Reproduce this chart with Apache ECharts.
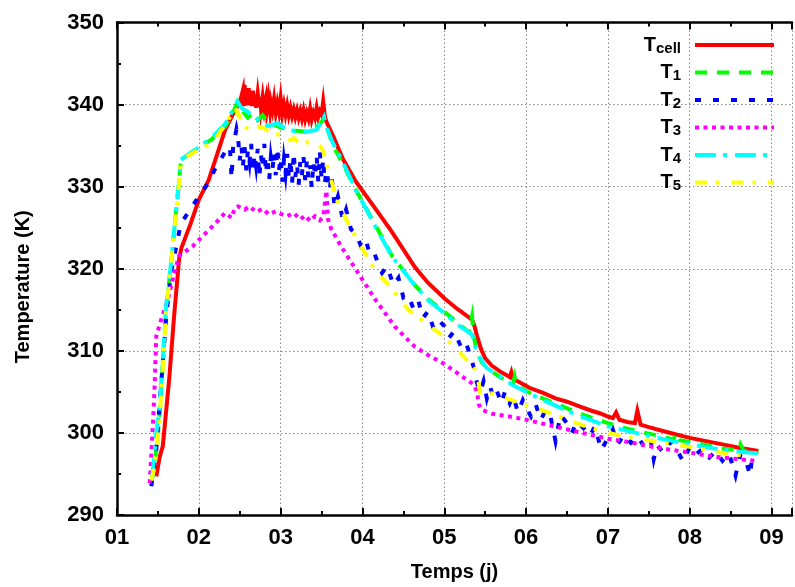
<!DOCTYPE html>
<html>
<head>
<meta charset="utf-8">
<script src="https://cdn.jsdelivr.net/npm/echarts@6/dist/echarts.min.js"></script>
<style>html,body{margin:0;padding:0;background:#fff}#c{width:795px;height:587px}</style>
</head>
<body>
<div id="c"></div>
<script>
// ---- data (day, temperature K) ----
var xTicks = ['01','02','03','04','05','06','07','08','09'];
var seriesNames = ['Tcell','T1','T2','T3','T4','T5'];
var seriesSubs = ['cell','1','2','3','4','5'];

var tCell = [[1.48,294.7],[1.52,297.0],[1.56,298.4],[1.64,306.8],[1.70,314.5],[1.76,321.3],[1.79,322.6],[1.90,325.5],[2.00,328.4],[2.12,330.8],[2.22,333.8],[2.32,336.9],[2.44,339.3],[2.50,340.2],
[2.52,340.2],[2.54,341.8],[2.55,339.8],[2.56,342.4],[2.57,340.0],[2.58,341.9],[2.60,339.9],[2.61,342.0],[2.62,340.1],[2.64,341.5],[2.65,339.8],[2.66,341.7],[2.68,339.9],[2.69,341.2],[2.70,339.6],[2.72,341.4],[2.74,339.7],[2.75,340.9],[2.76,339.5],[2.78,341.0],[2.80,339.4],[2.82,340.6],[2.83,339.3],[2.85,340.9],[2.87,339.2],[2.88,340.3],[2.90,339.3],[2.92,340.7],[2.94,339.0],[2.96,340.2],[2.98,339.1],[3.00,340.8],[3.02,338.9],[3.04,340.0],[3.06,338.8],[3.08,339.9],[3.10,338.7],[3.12,339.6],[3.14,338.6],[3.16,339.4],[3.18,338.5],[3.20,339.3],[3.22,338.4],[3.24,339.2],[3.26,338.3],[3.28,339.3],[3.30,338.2],[3.32,339.0],[3.34,338.3],[3.36,339.5],[3.38,338.2],[3.40,339.0],[3.42,338.4],[3.44,339.6],[3.46,338.5],[3.48,339.2],[3.50,338.8],[3.52,340.4],[3.54,338.6],[3.56,337.9],
[3.64,336.2],[3.76,333.4],[3.92,330.6],[4.16,327.3],[4.36,324.5],[4.64,320.2],[4.80,318.3],[5.00,316.4],[5.16,315.1],[5.34,313.8],[5.37,313.0],[5.40,311.8],[5.45,310.2],[5.50,309.1],[5.58,308.2],[5.68,307.5],[5.80,306.8],[5.82,307.4],[5.84,306.6],[6.04,305.5],[6.20,304.9],[6.36,304.2],[6.50,303.8],[6.66,303.2],[6.80,302.7],[6.90,302.4],[7.00,302.0],[7.06,301.8],[7.10,302.5],[7.14,301.6],[7.25,301.3],[7.33,301.2],[7.36,302.7],[7.40,301.0],[7.50,300.7],[7.65,300.3],[7.80,299.9],[8.00,299.4],[8.20,299.0],[8.40,298.6],[8.60,298.2],[8.84,297.8]];

var t1 = [[1.42,294.0],[1.46,296.0],[1.52,302.0],[1.56,308.5],[1.60,315.0],[1.66,320.5],[1.72,326.8],[1.76,330.8],[1.78,333.3],[1.96,334.5],[2.16,335.8],[2.32,337.3],[2.40,338.6],[2.46,340.0],[2.48,340.3],[2.52,339.5],[2.56,338.9],[2.60,338.4],[2.66,338.9],[2.72,338.1],[2.78,338.7],[2.84,337.9],[2.90,337.6],[3.00,337.2],[3.10,337.0],[3.20,336.8],[3.30,336.7],[3.40,337.0],[3.48,337.6],[3.52,338.2],[3.56,337.4],[3.64,335.0],[3.76,332.8],[3.92,329.6],[4.16,325.3],[4.36,321.6],[4.64,318.0],[4.80,316.3],[5.00,314.8],[5.16,313.4],[5.30,312.3],[5.34,314.2],[5.36,311.8],[5.40,309.8],[5.46,308.6],[5.52,307.9],[5.68,306.8],[5.84,305.9],[5.86,306.8],[5.88,305.8],[6.08,304.7],[6.30,303.8],[6.50,303.0],[6.70,302.2],[6.90,301.5],[7.00,301.2],[7.20,300.6],[7.40,300.1],[7.60,299.7],[7.80,299.2],[7.84,300.0],[7.88,299.1],[8.00,298.9],[8.20,298.5],[8.40,298.1],[8.60,297.9],[8.62,298.6],[8.66,297.8],[8.84,297.6]];

var t2 = [[1.42,293.5],[1.48,298.0],[1.54,306.0],[1.60,314.0],[1.66,319.5],[1.72,322.5],[1.78,325.5],[1.88,327.0],[2.00,328.8],[2.12,330.5],[2.20,332.2],[2.32,334.2],[2.38,334.9],[2.40,331.0],[2.42,335.0],[2.46,337.0],
[2.48,336.0],[2.50,333.2],[2.52,335.0],[2.54,332.6],[2.56,334.8],[2.58,332.0],[2.60,334.4],[2.62,333.0],[2.64,335.2],[2.66,331.8],[2.68,334.0],[2.70,332.5],[2.72,334.6],[2.74,331.2],[2.76,333.8],[2.78,332.2],[2.80,335.2],[2.82,331.6],[2.84,333.6],[2.86,330.8],[2.88,333.5],[2.90,332.0],[2.92,334.2],[2.94,331.4],[2.96,334.8],[2.98,332.0],[3.00,333.6],[3.02,330.6],[3.04,333.2],[3.06,331.6],[3.08,334.0],[3.10,331.0],[3.12,333.4],[3.14,330.4],[3.16,334.2],[3.18,331.2],[3.20,332.8],[3.22,330.2],[3.24,333.0],[3.26,331.4],[3.28,333.6],[3.30,330.8],[3.32,333.2],[3.34,331.0],[3.36,332.6],[3.38,329.8],[3.40,333.0],[3.42,331.2],[3.44,333.8],[3.46,330.6],[3.48,334.2],[3.50,331.0],[3.52,333.4],[3.54,330.4],[3.56,332.0],
[3.60,329.5],[3.62,331.5],[3.66,327.5],[3.70,328.8],[3.76,326.0],[3.80,327.2],[3.86,324.8],[3.92,324.3],[3.98,322.8],[4.04,323.6],[4.10,321.3],[4.16,321.5],[4.24,319.5],[4.30,320.3],[4.38,318.0],[4.44,318.9],[4.50,316.5],[4.56,316.8],[4.62,315.2],[4.68,316.2],[4.74,314.0],[4.80,314.8],[4.86,313.0],[4.92,313.9],[5.00,313.0],[5.06,311.6],[5.12,312.4],[5.20,310.6],[5.26,311.2],[5.32,309.3],[5.36,308.0],[5.40,306.1],[5.44,305.0],[5.48,306.3],[5.52,304.2],[5.56,305.6],[5.60,304.4],[5.64,305.2],[5.70,303.6],[5.74,305.0],[5.80,303.6],[5.84,304.6],[5.90,302.5],[5.96,304.0],[6.00,303.1],[6.06,302.0],[6.12,303.4],[6.18,301.6],[6.24,302.8],[6.30,301.9],[6.36,299.0],[6.42,302.2],[6.50,301.2],[6.56,300.0],[6.62,301.4],[6.70,300.6],[6.78,299.6],[6.84,300.8],[6.92,297.9],[7.00,299.4],[7.06,300.4],[7.12,298.6],[7.20,299.8],[7.28,298.8],[7.36,299.6],[7.44,298.4],[7.52,299.4],[7.56,296.8],[7.60,298.5],[7.68,297.6],[7.76,298.9],[7.84,298.0],[7.92,296.5],[8.00,298.3],[8.08,297.4],[8.16,298.1],[8.24,297.0],[8.32,297.8],[8.40,296.6],[8.48,297.5],[8.56,294.8],[8.62,297.4],[8.68,296.8],[8.74,294.8],[8.76,297.0]];

var t3 = [[1.40,293.9],[1.44,301.2],[1.46,305.7],[1.48,311.8],[1.54,313.8],[1.62,316.2],[1.70,319.5],[1.76,321.6],[1.92,322.7],[2.08,324.3],[2.20,325.5],[2.32,326.8],[2.40,326.2],[2.44,327.4],[2.48,327.6],[2.56,327.2],[2.62,327.6],[2.70,326.9],[2.78,327.3],[2.86,326.6],[2.94,327.0],[3.00,326.7],[3.08,326.4],[3.16,326.8],[3.24,326.0],[3.30,326.5],[3.36,325.8],[3.42,326.4],[3.48,325.9],[3.52,326.3],[3.56,329.5],[3.58,326.0],[3.62,324.8],[3.76,322.4],[3.92,319.9],[4.16,316.2],[4.40,312.9],[4.64,310.5],[4.80,309.5],[5.00,308.4],[5.20,307.0],[5.36,305.9],[5.40,305.0],[5.42,303.5],[5.46,302.8],[5.60,302.3],[5.80,302.0],[6.00,301.6],[6.30,300.9],[6.60,300.2],[7.00,299.3],[7.30,298.8],[7.60,298.2],[8.00,297.6],[8.30,297.1],[8.60,296.8],[8.80,296.6]];

var t4 = [[1.43,294.5],[1.48,300.0],[1.52,303.0],[1.56,309.0],[1.60,315.4],[1.66,320.7],[1.72,326.8],[1.76,330.8],[1.78,333.3],[1.96,334.5],[2.16,336.0],[2.32,337.6],[2.42,339.4],[2.47,340.4],[2.52,339.6],[2.60,339.1],[2.68,338.5],[2.76,337.9],[2.84,337.4],[2.96,337.7],[3.04,337.2],[3.12,336.9],[3.20,336.7],[3.32,336.7],[3.44,336.9],[3.50,338.0],[3.53,338.5],[3.56,337.2],[3.64,335.3],[3.76,333.0],[3.92,329.6],[4.16,325.1],[4.36,321.5],[4.64,318.0],[4.80,316.2],[5.00,314.6],[5.16,313.2],[5.34,312.0],[5.40,309.7],[5.52,307.9],[5.68,306.9],[5.84,305.8],[6.08,304.6],[6.30,303.6],[6.50,302.7],[6.70,301.9],[7.00,300.8],[7.30,300.1],[7.60,299.4],[8.00,298.6],[8.30,298.1],[8.60,297.7],[8.84,297.5]];

var t5 = [[1.42,294.2],[1.46,296.0],[1.52,301.5],[1.56,308.0],[1.60,314.8],[1.66,320.5],[1.72,326.5],[1.76,330.6],[1.78,333.2],[1.96,334.3],[2.16,335.3],[2.36,338.1],[2.44,339.7],[2.52,338.1],[2.58,337.2],[2.64,336.7],[2.72,337.3],[2.80,337.1],[2.92,336.3],[3.00,336.4],[3.08,335.5],[3.16,335.9],[3.24,335.1],[3.32,335.4],[3.40,335.5],[3.48,335.0],[3.52,334.3],[3.56,332.9],[3.64,330.0],[3.70,328.0],[3.88,324.5],[4.16,319.7],[4.32,318.0],[4.56,315.0],[4.72,313.8],[4.96,312.0],[5.16,310.1],[5.36,308.0],[5.40,307.3],[5.44,304.9],[5.60,304.8],[5.76,304.2],[5.92,303.7],[6.00,303.4],[6.30,302.4],[6.50,301.6],[6.70,300.9],[7.00,300.0],[7.30,299.4],[7.60,298.9],[8.00,298.3],[8.30,297.7],[8.60,297.3],[8.76,297.0]];

var allData = [tCell, t1, t2, t3, t4, t5];
var colors = ['#ff0000','#00ff00','#0000ff','#ff00ff','#00ffff','#ffff00'];
var dashes = ['solid',[12,10],[6,12],[4,4.5],[21,7,4,8],[12,9,3.5,12]];

var chart = echarts.init(document.getElementById('c'), null, {renderer:'canvas'});
var FONT = '"Liberation Sans", Arial, Helvetica, sans-serif';

var series = seriesNames.map(function(n,i){
  return {
    name: n, type:'line', data: allData[i], showSymbol:false, symbol:'none',
    xAxisIndex:0, yAxisIndex:0, animation:false, clip:true,
    lineStyle:{color:colors[i], width:4, type:dashes[i], cap:'butt', join:'miter'},
    itemStyle:{color:colors[i]}
  };
});

var option = {
  animation:false,
  backgroundColor:'#fff',
  textStyle:{fontFamily:FONT},
  grid:{left:117, top:22.5, width:687.5, height:493, containLabel:false},
  legend:{
    orient:'vertical', right:19, top:29, align:'right',
    itemWidth:79, itemHeight:14, itemGap:0.5, padding:0,
    data: seriesNames,
    lineStyle:{width:4},
    itemStyle:{opacity:0, borderWidth:0},
    formatter:function(n){ var i = seriesNames.indexOf(n); return '{t|T}{s|' + seriesSubs[i] + '}'; },
    textStyle:{
      color:'#000', fontFamily:FONT, fontWeight:'bold',
      rich:{
        t:{fontSize:20, fontWeight:'bold', fontFamily:FONT, color:'#000', lineHeight:22},
        s:{fontSize:15, fontWeight:'bold', fontFamily:FONT, color:'#000', verticalAlign:'bottom', padding:[12,9,0,0], lineHeight:15}
      }
    }
  },
  xAxis:[{
    type:'value', min:1, max:9.25, interval:1, position:'bottom',
    name:'Temps (j)', nameLocation:'middle', nameGap:47,
    nameTextStyle:{fontSize:20, fontWeight:'bold', color:'#000', fontFamily:FONT},
    axisLine:{show:true, onZero:false, lineStyle:{color:'#000', width:2.5}},
    axisTick:{show:true, inside:true, length:7, lineStyle:{color:'#000', width:2}},
    minorTick:{show:true, splitNumber:2, length:4, lineStyle:{color:'#000', width:2}},
    axisLabel:{margin:12, fontSize:22, fontWeight:'bold', color:'#000', fontFamily:FONT,
      formatter:function(v){ return Math.abs(v-Math.round(v))<1e-6 ? xTicks[Math.round(v)-1] : ''; }},
    splitLine:{show:true, lineStyle:{color:'#888', width:1, type:[1.5,2.5]}}
  },{
    type:'value', min:1, max:9.25, interval:1, position:'top',
    axisLine:{show:true, onZero:false, lineStyle:{color:'#000', width:2.5}},
    axisTick:{show:true, inside:true, length:7, lineStyle:{color:'#000', width:2}},
    minorTick:{show:true, splitNumber:2, length:4, lineStyle:{color:'#000', width:2}},
    axisLabel:{show:false}, splitLine:{show:false}
  }],
  yAxis:[{
    type:'value', min:290, max:350, interval:10,
    name:'Temperature (K)', nameLocation:'middle', nameGap:84, nameRotate:90,
    nameTextStyle:{fontSize:20, fontWeight:'bold', color:'#000', fontFamily:FONT, padding:[0,36,0,0]},
    axisLine:{show:true, onZero:false, lineStyle:{color:'#000', width:2.5}},
    axisTick:{show:true, inside:true, length:7, lineStyle:{color:'#000', width:2}},
    minorTick:{show:true, splitNumber:2, length:4, lineStyle:{color:'#000', width:2}},
    axisLabel:{margin:13, fontSize:22, fontWeight:'bold', color:'#000', fontFamily:FONT},
    splitLine:{show:true, lineStyle:{color:'#888', width:1, type:[1.5,2.5]}}
  }],
  series: series
};
chart.setOption(option);
</script>
</body>
</html>
